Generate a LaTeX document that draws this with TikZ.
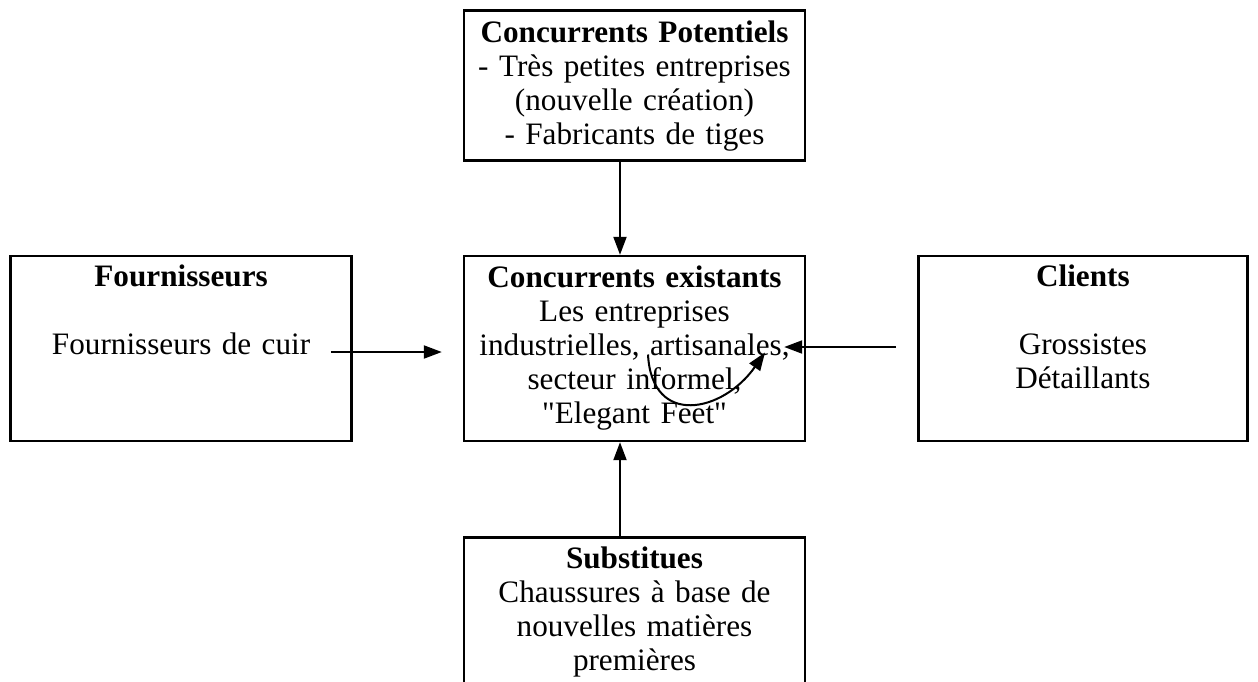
\documentclass[tikz,border=0pt]{standalone}
\usepackage{fontspec}
\setmainfont{Liberation Serif}
\newfontfamily\qfont{Liberation Serif}
\usetikzlibrary{positioning, arrows.meta}

\tikzset{
  box/.style={draw, rectangle, line width=1.2pt, align=center, inner sep=2pt,
    text width=166pt, minimum width=170.5pt,
    font=\fontsize{15.6}{17}\selectfont},
}
\newcommand{\sq}{{\qfont"}}

\begin{document}
\begin{tikzpicture}[-{Triangle[length=9pt,width=6.5pt]}, line width=1pt, x=1pt, y=1pt]
    \useasboundingbox (0,0) rectangle (629,-340.5);
    \clip (0,0) rectangle (629,-340.5);

    \node[box, minimum height=92.5pt] (cur) at (317.25,-174.25)
        {\textbf{Concurrents existants}\\ Les entreprises\\ industrielles, artisanales,\\ secteur informel,\\ \sq Elegant Feet\sq};
    \node[box, minimum height=75pt] (pot) [above=46.5pt of cur]
        {\textbf{Concurrents Potentiels}\\ - Très petites entreprises\\ (nouvelle création)\\ - Fabricants de tiges};
    \node[box, minimum height=92.5pt] (fou) [left=55pt of cur]
        {\textbf{Fournisseurs}\\ \strut\\ Fournisseurs de cuir\\ \strut\\ \strut};
    \node[box, minimum height=92.5pt, text width=160pt, minimum width=164.5pt] (cli) [right=55.5pt of cur]
        {\textbf{Clients}\\ \strut\\ Grossistes\\ Détaillants\\ \strut};
    \node[box, minimum height=75pt] (sub) [below=47pt of cur]
        {\textbf{Substitues}\\ Chaussures à base de\\ nouvelles matières\\ premières};

    \draw ([xshift=-7.25pt]pot.south) -- ([xshift=-7.25pt]cur.north);
    \draw ([xshift=-7.25pt]sub.north) -- ([xshift=-7.25pt]cur.south);
    \draw ([xshift=-11pt,yshift=-1.75pt]fou.east) -- ([xshift=-10.5pt,yshift=-1.75pt]cur.west);
    \draw ([xshift=-10.5pt,yshift=0.75pt]cli.west) -- ([xshift=-11pt,yshift=0.75pt]cur.east);
    \draw ([shift={(6.75,-3)}]cur.center) to[out=-87,in=-125,looseness=1.6] ([shift={(65.25,-2)}]cur.center);
\end{tikzpicture}
\end{document}
